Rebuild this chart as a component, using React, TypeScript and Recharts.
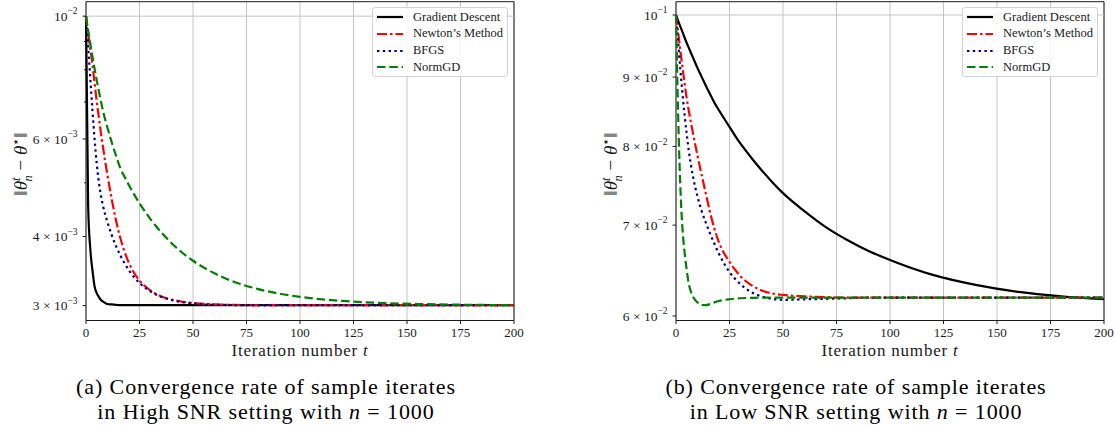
import React from "react";
import {
  LineChart,
  Line,
  XAxis,
  YAxis,
  CartesianGrid,
  ReferenceLine,
  ReferenceArea,
} from "recharts";

const SERIF = "'Liberation Serif', 'DejaVu Serif', serif";
const INK = "#1a1a1a";

const iters = [0, 1, 2, 3, 4, 5, 6, 7, 8, 10, 12, 14, 16, 18, 20, 25, 30, 35, 40, 45, 50, 60, 70, 80, 90, 100, 120, 140, 160, 180, 200];

// (a) High SNR
const hiGd = [0.01, 0.00455, 0.0038, 0.00348, 0.00325, 0.00316, 0.00311, 0.00307, 0.00305, 0.00302, 0.003015, 0.00301, 0.003005, 0.003005, 0.003005, 0.003005, 0.003005, 0.003005, 0.003005, 0.003005, 0.003005, 0.003005, 0.003005, 0.003005, 0.003005, 0.003005, 0.003005, 0.003005, 0.003005, 0.003005, 0.003005];
const hiNewton = [0.01, 0.009324, 0.00873, 0.008187, 0.00758, 0.007029, 0.006561, 0.006143, 0.005773, 0.005167, 0.004675, 0.00428, 0.003979, 0.003756, 0.003587, 0.00333, 0.003198, 0.003119, 0.003076, 0.003049, 0.003033, 0.003016, 0.003009, 0.003005, 0.003005, 0.003005, 0.003005, 0.003005, 0.003005, 0.003005, 0.003005];
const hiBfgs = [0.01, 0.008805, 0.007725, 0.006771, 0.006004, 0.00542, 0.005017, 0.004736, 0.004534, 0.00425, 0.004025, 0.003844, 0.003698, 0.00358, 0.003477, 0.003296, 0.003185, 0.003113, 0.003071, 0.003044, 0.003028, 0.003013, 0.003007, 0.003005, 0.003005, 0.003005, 0.003005, 0.003005, 0.003005, 0.003005, 0.003005];
const hiNorm = [0.01, 0.009441, 0.008927, 0.008461, 0.008043, 0.007664, 0.007323, 0.007011, 0.006727, 0.006292, 0.005923, 0.005601, 0.00532, 0.005129, 0.004956, 0.004592, 0.004305, 0.004075, 0.00389, 0.003738, 0.003616, 0.003431, 0.003304, 0.003217, 0.003155, 0.003111, 0.003059, 0.003031, 0.003018, 0.00301, 0.003006];

// (b) Low SNR
const loGd = [0.1, 0.09899, 0.09807, 0.09716, 0.09625, 0.09536, 0.09456, 0.09376, 0.09297, 0.09141, 0.09003, 0.08866, 0.08739, 0.08614, 0.08511, 0.0827, 0.08044, 0.07855, 0.07684, 0.0753, 0.07391, 0.07169, 0.06977, 0.06826, 0.067, 0.06598, 0.06433, 0.06325, 0.0625, 0.06203, 0.06173];
const loNewton = [0.1, 0.09716, 0.09424, 0.09156, 0.0891, 0.08679, 0.08496, 0.08325, 0.08172, 0.07882, 0.0762, 0.07378, 0.07144, 0.06953, 0.06803, 0.06576, 0.06422, 0.06325, 0.06266, 0.06234, 0.06218, 0.06203, 0.06195, 0.0619, 0.0619, 0.0619, 0.0619, 0.0619, 0.0619, 0.0619, 0.0619];
const loBfgs = [0.1, 0.09553, 0.09125, 0.08761, 0.0844, 0.08172, 0.07935, 0.07749, 0.07593, 0.07353, 0.07169, 0.07025, 0.06895, 0.06779, 0.06671, 0.06465, 0.06335, 0.0625, 0.06203, 0.06177, 0.06166, 0.06172, 0.06177, 0.06183, 0.0619, 0.0619, 0.0619, 0.0619, 0.0619, 0.0619, 0.0619];
const loNorm = [0.1, 0.0844, 0.07492, 0.06965, 0.06688, 0.06487, 0.06335, 0.0625, 0.06197, 0.0614, 0.06113, 0.06111, 0.06124, 0.0614, 0.06154, 0.06173, 0.06183, 0.06187, 0.0619, 0.0619, 0.0619, 0.0619, 0.0619, 0.0619, 0.0619, 0.0619, 0.0619, 0.0619, 0.0619, 0.0619, 0.0619];

const xTicks = [0, 25, 50, 75, 100, 125, 150, 175, 200];
const hiYTicks = [0.01, 0.009, 0.008, 0.007, 0.006, 0.005, 0.004, 0.003];
const hiYTickLabels = ["10^−2", "", "", "", "6 × 10^−3", "", "4 × 10^−3", "3 × 10^−3"];
const loYTicks = [0.1, 0.09, 0.08, 0.07, 0.06];
const loYTickLabels = ["10^−1", "9 × 10^−2", "8 × 10^−2", "7 × 10^−2", "6 × 10^−2"];

const seriesStyle = [
  { key: "gd", name: "Gradient Descent", color: "#000000", dash: undefined },
  { key: "newton", name: "Newton’s Method", color: "#ff0000", dash: "10 3 2.5 3" },
  { key: "bfgs", name: "BFGS", color: "#00008b", dash: "2.4 3.4" },
  { key: "norm", name: "NormGD", color: "#008000", dash: "8.5 3.8" },
];

const hiRows = iters.map((t, i) => ({ t, gd: hiGd[i], newton: hiNewton[i], bfgs: hiBfgs[i], norm: hiNorm[i] }));
const loRows = iters.map((t, i) => ({ t, gd: loGd[i], newton: loNewton[i], bfgs: loBfgs[i], norm: loNorm[i] }));

const makeYTick = (ticks: number[], labels: string[]) => (props: any) => {
  const { x, y, payload } = props;
  const i = ticks.findIndex((v) => Math.abs(v - payload.value) < v * 1e-6);
  const label = i >= 0 ? labels[i] : "";
  const [base, exp] = label.split("^");
  const len = label ? 3.5 : 2;
  return (
    <g>
      <line x1={x - len} x2={x} y1={y} y2={y} stroke={INK} strokeWidth={1} />
      {label && (
        <text x={x - 8.5} y={y + 4.8} textAnchor="end" fontSize={13.5} fontFamily={SERIF} fill={INK}>
          {base}
          <tspan dy={-6.5} fontSize={9.5}>{exp}</tspan>
        </text>
      )}
    </g>
  );
};

const Panel = ({ rows, domain, yTicks, yLabels, gridAt, left, width }: any) => (
  <div style={{ position: "absolute", left, top: 0 }}>
    <LineChart width={width} height={346} data={rows} margin={{ top: 1.7, right: 10, left: 0, bottom: 0 }}>
      <CartesianGrid horizontal={false} stroke="#c4c4c4" strokeWidth={1} />
      <ReferenceLine y={gridAt} stroke="#c4c4c4" strokeWidth={1} />
      <XAxis
        dataKey="t"
        type="number"
        domain={[0, 200]}
        ticks={xTicks}
        interval={0}
        height={25.5}
        axisLine={false}
        tickSize={3.5}
        tickMargin={4}
        tickLine={{ stroke: INK }}
        tick={{ fill: INK, fontSize: 13, fontFamily: SERIF }}
      />
      <YAxis
        type="number"
        scale="log"
        domain={domain}
        allowDataOverflow
        ticks={yTicks}
        interval={0}
        width={86}
        axisLine={false}
        tickLine={false}
        tickSize={0}
        tickMargin={0}
        tick={makeYTick(yTicks, yLabels)}
      />
      {seriesStyle.map((s) => (
        <Line
          key={s.key}
          dataKey={s.key}
          name={s.name}
          type="monotone"
          stroke={s.color}
          strokeWidth={2.2}
          strokeDasharray={s.dash}
          dot={false}
          activeDot={false}
          isAnimationActive={false}
        />
      ))}
      <ReferenceArea x1={0} x2={200} y1={domain[0]} y2={domain[1]} fill="none" stroke={INK} strokeWidth={1} ifOverflow="visible" />
    </LineChart>
  </div>
);

const LegendBox = ({ left }: { left: number }) => (
  <div
    style={{
      position: "absolute",
      left,
      top: 7,
      width: 134,
      height: 68,
      border: "1px solid #d2d2d2",
      borderRadius: 3,
      background: "rgba(255,255,255,0.85)",
      fontFamily: SERIF,
      fontSize: 12.5,
      color: INK,
    }}
  >
    {seriesStyle.map((s, i) => (
      <div key={s.key} style={{ position: "absolute", left: 3, top: 0.5 + i * 16.8, height: 17, display: "flex", alignItems: "center", whiteSpace: "nowrap" }}>
        <svg width={28} height={8} style={{ marginRight: 9 }}>
          <line x1={1} x2={27} y1={4} y2={4} stroke={s.color} strokeWidth={2.2} strokeDasharray={s.dash} />
        </svg>
        <span>{s.name}</span>
      </div>
    ))}
  </div>
);

const YLabel = ({ x, y }: { x: number; y: number }) => (
  <text transform={`translate(${x},${y}) rotate(-90)`} textAnchor="middle" fontFamily={SERIF} fontSize={19} fill={INK}>
    ‖<tspan fontStyle="italic">θ</tspan>
    <tspan fontSize={12.5} dy={-7.5} fontStyle="italic">t</tspan>
    <tspan fontSize={12.5} dx={-4} dy={12.5} fontStyle="italic">n</tspan>
    <tspan dy={-5}>{" − "}</tspan>
    <tspan fontStyle="italic">θ</tspan>
    <tspan fontSize={12.5} dy={-7.5}>⋆</tspan>
    <tspan dy={7.5}>‖</tspan>
  </text>
);

const XLabel = ({ x }: { x: number }) => (
  <text x={x} y={356} textAnchor="middle" fontFamily={SERIF} fontSize={17} letterSpacing={0.8} fill={INK}>
    Iteration number <tspan fontStyle="italic">t</tspan>
  </text>
);

const Caption = ({ x, tag, snr }: { x: number; tag: string; snr: string }) => (
  <g fontFamily={SERIF} fontSize={22} letterSpacing={0.9} fill="#000" textAnchor="middle">
    <text x={x} y={393.5}>({tag}) Convergence rate of sample iterates</text>
    <text x={x} y={418.5}>
      in {snr} SNR setting with <tspan fontStyle="italic">n</tspan> = 1000
    </text>
  </g>
);

export default function App() {
  return (
    <div style={{ position: "absolute", left: 0, top: 0, width: 1114, height: 429, background: "#fff", overflow: "hidden" }}>
      <Panel rows={hiRows} domain={[0.00282, 0.01062]} yTicks={hiYTicks} yLabels={hiYTickLabels} gridAt={0.01} left={0} width={524} />
      <Panel rows={loRows} domain={[0.05954, 0.10228]} yTicks={loYTicks} yLabels={loYTickLabels} gridAt={0.1} left={590} width={524} />
      <LegendBox left={372} />
      <LegendBox left={962} />
      <svg width={1114} height={429} style={{ position: "absolute", left: 0, top: 0, pointerEvents: "none" }}>
        <YLabel x={27} y={164} />
        <YLabel x={617} y={164} />
        <XLabel x={300} />
        <XLabel x={890} />
        <Caption x={266} tag="a" snr="High" />
        <Caption x={856} tag="b" snr="Low" />
      </svg>
    </div>
  );
}
